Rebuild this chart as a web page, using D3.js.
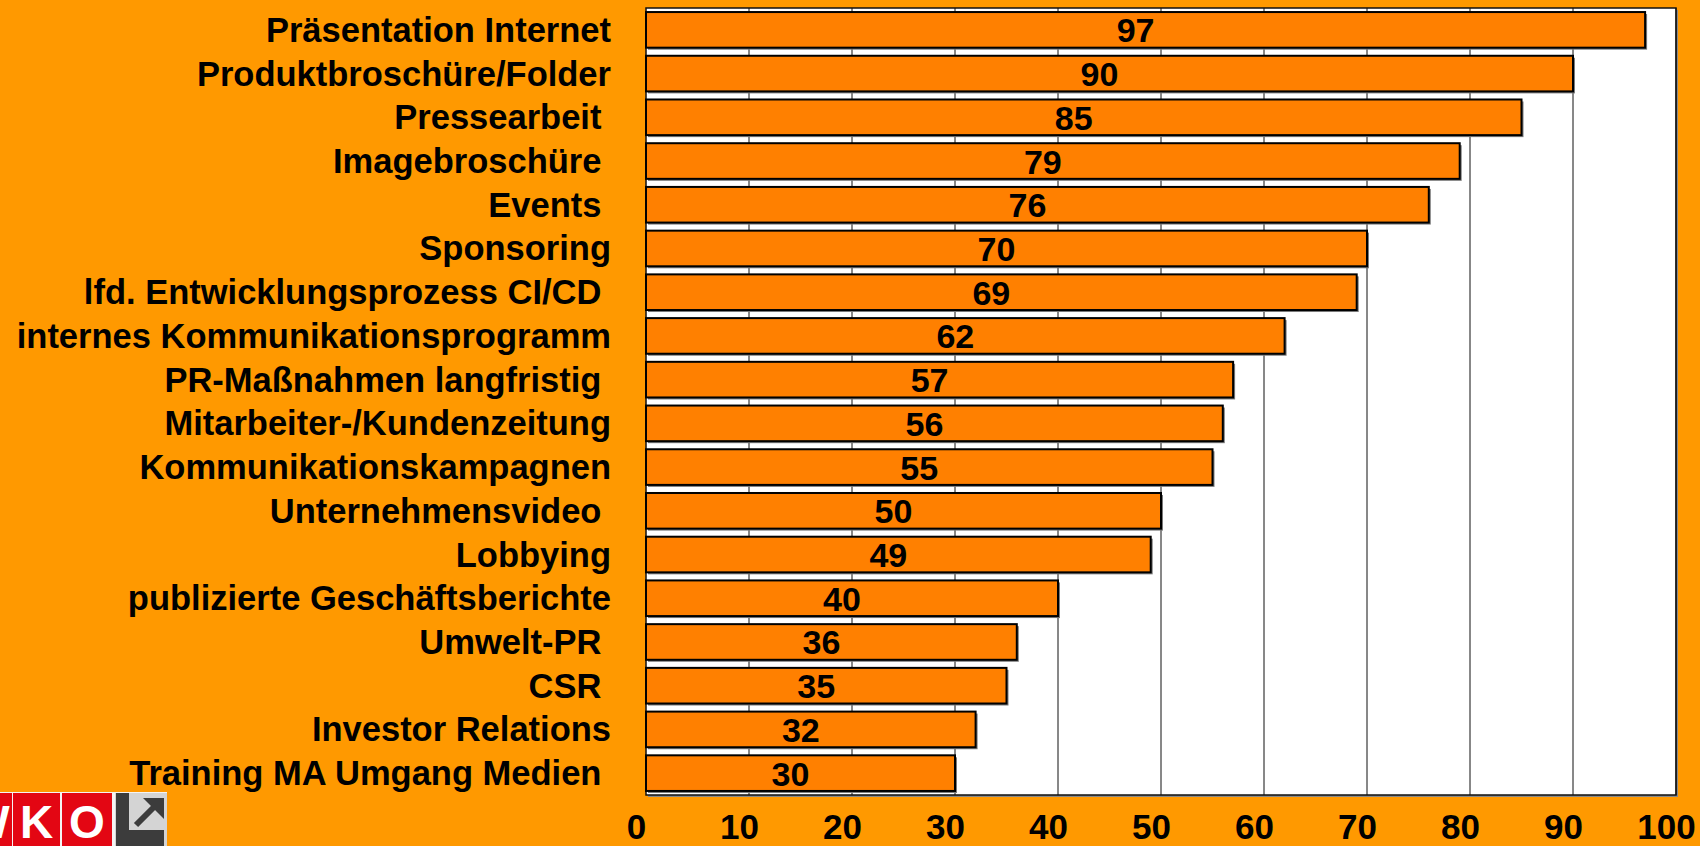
<!DOCTYPE html>
<html>
<head>
<meta charset="utf-8">
<script src="https://cdn.jsdelivr.net/npm/d3@7"></script>
<style>
    html, body { margin: 0; padding: 0; background: #FF9900; overflow: hidden; }
    svg text { font-family: Arial, "Liberation Sans", sans-serif; font-weight: bold; white-space: pre; }
</style>
</head>
<body>
<svg id="chart"></svg>
<script>
// categories top to bottom (trailing blanks are in the original labels)
const categories = [
    'Präsentation Internet',
    'Produktbroschüre/Folder',
    'Pressearbeit ',
    'Imagebroschüre ',
    'Events ',
    'Sponsoring',
    'lfd. Entwicklungsprozess CI/CD ',
    'internes Kommunikationsprogramm',
    'PR-Maßnahmen langfristig ',
    'Mitarbeiter-/Kundenzeitung',
    'Kommunikationskampagnen',
    'Unternehmensvideo ',
    'Lobbying',
    'publizierte Geschäftsberichte',
    'Umwelt-PR ',
    'CSR ',
    'Investor Relations',
    'Training MA Umgang Medien '
];
const values = [97, 90, 85, 79, 76, 70, 69, 62, 57, 56, 55, 50, 49, 40, 36, 35, 32, 30];
const xTicks = [0, 10, 20, 30, 40, 50, 60, 70, 80, 90, 100];
const logoLetters = ['W', 'K', 'O'];

class BarChart {
    constructor(svg) {
        this.svg = svg;
        this.svg
            .attr('width', this.width)
            .attr('height', this.height);

        this.x = d3.scaleLinear()
            .domain([0, 100])
            .range([this.margin.left, this.width - this.margin.right]);

        this.y = d3.scaleBand()
            .domain(categories)
            .range([this.margin.top, this.height - this.margin.bottom])
            .paddingInner(0.185)
            .paddingOuter(0.0925);
    }

    get width() { return 1700; }
    get height() { return 846; }
    get margin() { return { top: 8, right: 24, bottom: 51, left: 646 }; }

    draw() {
        this.drawFrame();
        this.drawBars();
        this.drawAxes();
        this.drawLogo();
    }

    drawFrame() {
        const [x0, x1] = this.x.range();
        const [y0, y1] = this.y.range();

        // soft shadow behind plot area
        this.svg.append('rect')
            .attr('x', x0 + 2).attr('y', y0 + 2)
            .attr('width', x1 - x0).attr('height', y1 - y0)
            .attr('fill', '#8a8a8a');

        this.svg.append('rect')
            .attr('x', x0).attr('y', y0)
            .attr('width', x1 - x0).attr('height', y1 - y0)
            .attr('fill', '#ffffff');

        this.svg.append('g')
            .selectAll('line')
            .data(xTicks.slice(1))
            .enter()
            .append('line')
            .attr('x1', d => this.x(d)).attr('x2', d => this.x(d))
            .attr('y1', y0).attr('y2', y1)
            .attr('stroke', '#111')
            .attr('stroke-width', 1);

        this.frame = this.svg.append('rect')
            .attr('x', x0).attr('y', y0)
            .attr('width', x1 - x0).attr('height', y1 - y0)
            .attr('fill', 'none')
            .attr('stroke', '#111')
            .attr('stroke-width', 1.5);
    }

    drawBars() {
        const rows = categories.map((c, i) => ({ name: c, value: values[i] }));
        const g = this.svg.append('g');

        g.selectAll('.shadow')
            .data(rows)
            .enter()
            .append('rect')
            .attr('class', 'shadow')
            .attr('x', this.x(0) + 2)
            .attr('y', d => this.y(d.name) + 2)
            .attr('width', d => this.x(d.value) - this.x(0))
            .attr('height', this.y.bandwidth())
            .attr('fill', '#7a7a7a');

        g.selectAll('.bar')
            .data(rows)
            .enter()
            .append('rect')
            .attr('class', 'bar')
            .attr('x', this.x(0))
            .attr('y', d => this.y(d.name))
            .attr('width', d => this.x(d.value) - this.x(0))
            .attr('height', this.y.bandwidth())
            .attr('fill', '#FF8000')
            .attr('stroke', '#000')
            .attr('stroke-width', 2);

        g.selectAll('.value')
            .data(rows)
            .enter()
            .append('text')
            .attr('class', 'value')
            .attr('x', d => (this.x(0) + this.x(d.value)) / 2 - 10)
            .attr('y', d => this.y(d.name) + this.y.bandwidth() / 2 + 12.5)
            .attr('text-anchor', 'middle')
            .attr('font-size', 34)
            .attr('fill', '#000')
            .text(d => d.value);
    }

    drawAxes() {
        // category labels
        this.svg.append('g')
            .selectAll('text')
            .data(categories)
            .enter()
            .append('text')
            .attr('x', 611)
            .attr('y', d => this.y(d) + this.y.bandwidth() / 2 + 12)
            .attr('text-anchor', 'end')
            .attr('font-size', 34.5)
            .attr('fill', '#000')
            .text(d => d);

        const xAxis = d3.axisBottom(this.x)
            .tickValues(xTicks)
            .tickSize(0)
            .tickPadding(0);

        const ax = this.svg.append('g')
            .attr('transform', `translate(0, ${this.height - this.margin.bottom})`)
            .call(xAxis);

        ax.select('.domain').remove();
        ax.selectAll('text')
            .attr('dx', -10)
            .attr('dy', 0)
            .attr('y', 44)
            .attr('font-size', 35)
            .attr('font-family', 'Arial, "Liberation Sans", sans-serif')
            .attr('fill', '#000');
    }

    drawLogo() {
        const logo = this.svg.append('g')
            .attr('transform', 'translate(0, 792)');

        const boxes = [
            { x: -36, w: 48 },
            { x: 13, w: 47 },
            { x: 62, w: 50 }
        ];

        logo.append('rect')
            .attr('x', 0).attr('y', 0)
            .attr('width', 167).attr('height', 60)
            .attr('fill', '#f4f4f4');

        logo.selectAll('.box')
            .data(boxes)
            .enter()
            .append('rect')
            .attr('class', 'box')
            .attr('x', d => d.x).attr('y', 1)
            .attr('width', d => d.w).attr('height', 60)
            .attr('fill', '#E30613');

        logo.selectAll('.letter')
            .data(boxes)
            .enter()
            .append('text')
            .attr('class', 'letter')
            .attr('x', d => d.x + d.w / 2)
            .attr('y', 46)
            .attr('text-anchor', 'middle')
            .attr('font-size', 46)
            .attr('fill', '#fff')
            .text((d, i) => logoLetters[i]);

        // grey arrow box
        logo.append('rect')
            .attr('x', 115).attr('y', 1)
            .attr('width', 52).attr('height', 60)
            .attr('fill', '#d4d4d4');

        logo.append('path')
            .attr('d', 'M116,1 L129,1 L129,38 L164,38 L164,60 L116,60 Z')
            .attr('fill', '#3c3c3c');

        logo.append('line')
            .attr('x1', 136).attr('y1', 33)
            .attr('x2', 156).attr('y2', 13)
            .attr('stroke', '#3c3c3c')
            .attr('stroke-width', 6);

        logo.append('path')
            .attr('d', 'M143,6 L164,6 L164,27 Z')
            .attr('fill', '#3c3c3c');
    }
}

const chart = new BarChart(d3.select('#chart'));
chart.draw();
</script>
</body>
</html>
